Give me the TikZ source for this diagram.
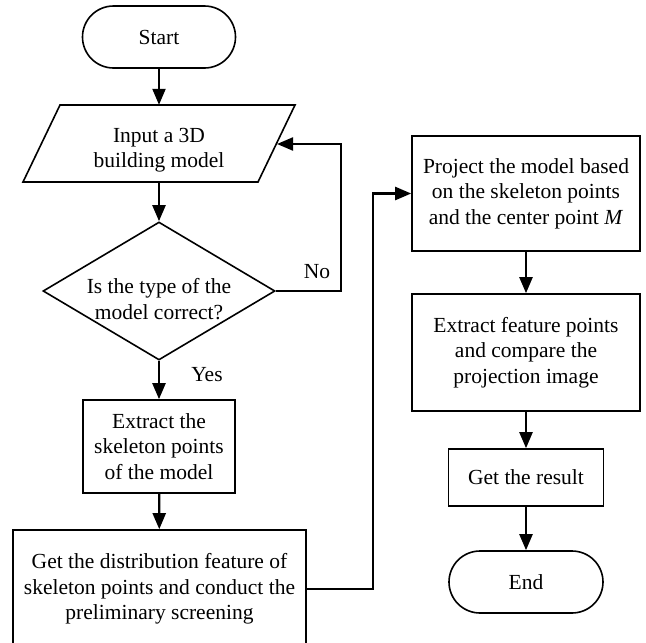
\documentclass[tikz,border=0pt]{standalone}
\usepackage{fontspec}
\setmainfont{Liberation Serif}
\usetikzlibrary{shapes.geometric,arrows.meta}
\begin{document}
\begin{tikzpicture}[x=1pt,y=-1pt,
 every node/.style={font=\fontsize{21.5}{25.5}\selectfont, align=center, inner sep=0pt},
 proc/.style={draw, line width=1.6pt, rectangle},
 term/.style={draw, line width=1.6pt, rectangle, rounded corners=31pt},
 conn/.style={line width=2.2pt, -{Triangle[length=16pt,width=13pt]}},
 shapeline/.style={line width=1.6pt}]
\useasboundingbox (0,0) rectangle (646,643);
% nodes
\node[term, minimum width=153pt, minimum height=62pt] (start) at (159,37) {Start};
\draw[shapeline] (60,105) -- (295,105) -- (258,182) -- (23,182) -- cycle;
\node[minimum width=200pt, minimum height=77pt] (input) at (159,143.5) {};
\node (inputtext) at (159,150) {Input a 3D\\building model};
\coordinate (inR) at (277,144);
\node[diamond, draw, shapeline, minimum width=232pt, minimum height=138pt, aspect=1.68] (dec) at (159,291) {};
\node (dectext) at (159,299) {Is the type of the\\model correct?};
\node[proc, minimum width=152pt, minimum height=93pt] (extract) at (159,446.5) {Extract the\\skeleton points\\of the model};
\node[proc, minimum width=293pt, minimum height=118pt] (dist) at (159.5,589) {Get the distribution feature of\\skeleton points and conduct the\\preliminary screening};
\node[proc, minimum width=228pt, minimum height=115pt] (proj) at (526,193.5) {Project the model based\\on the skeleton points\\and the center point \textit{M}};
\node[proc, minimum width=228pt, minimum height=117pt] (feat) at (526,352.5) {Extract feature points\\and compare the\\projection image};
\node[proc, minimum width=155pt, minimum height=57pt] (res) at (526,477.5) {Get the result};
\node[term, minimum width=154pt, minimum height=62pt] (end) at (526,582) {End};
% labels
\node (no) at (317,272) {No};
\node (yes) at (207,375) {Yes};
% corner coordinates
\coordinate (c1) at (341,291);
\coordinate (c2) at (373,589);
% connectors
\draw[conn] (start) -- (input);
\draw[conn] (input) -- (dec);
\draw[conn] (dec.east) -- (c1) |- (inR);
\draw[conn] (dec) -- (extract);
\draw[conn] (extract) -- (dist);
\draw[conn] (dist.east) -- (c2) |- (proj.west);
\draw[conn] (proj) -- (feat);
\draw[conn] (feat) -- (res);
\draw[conn] (res) -- (end);
\end{tikzpicture}
\end{document}
